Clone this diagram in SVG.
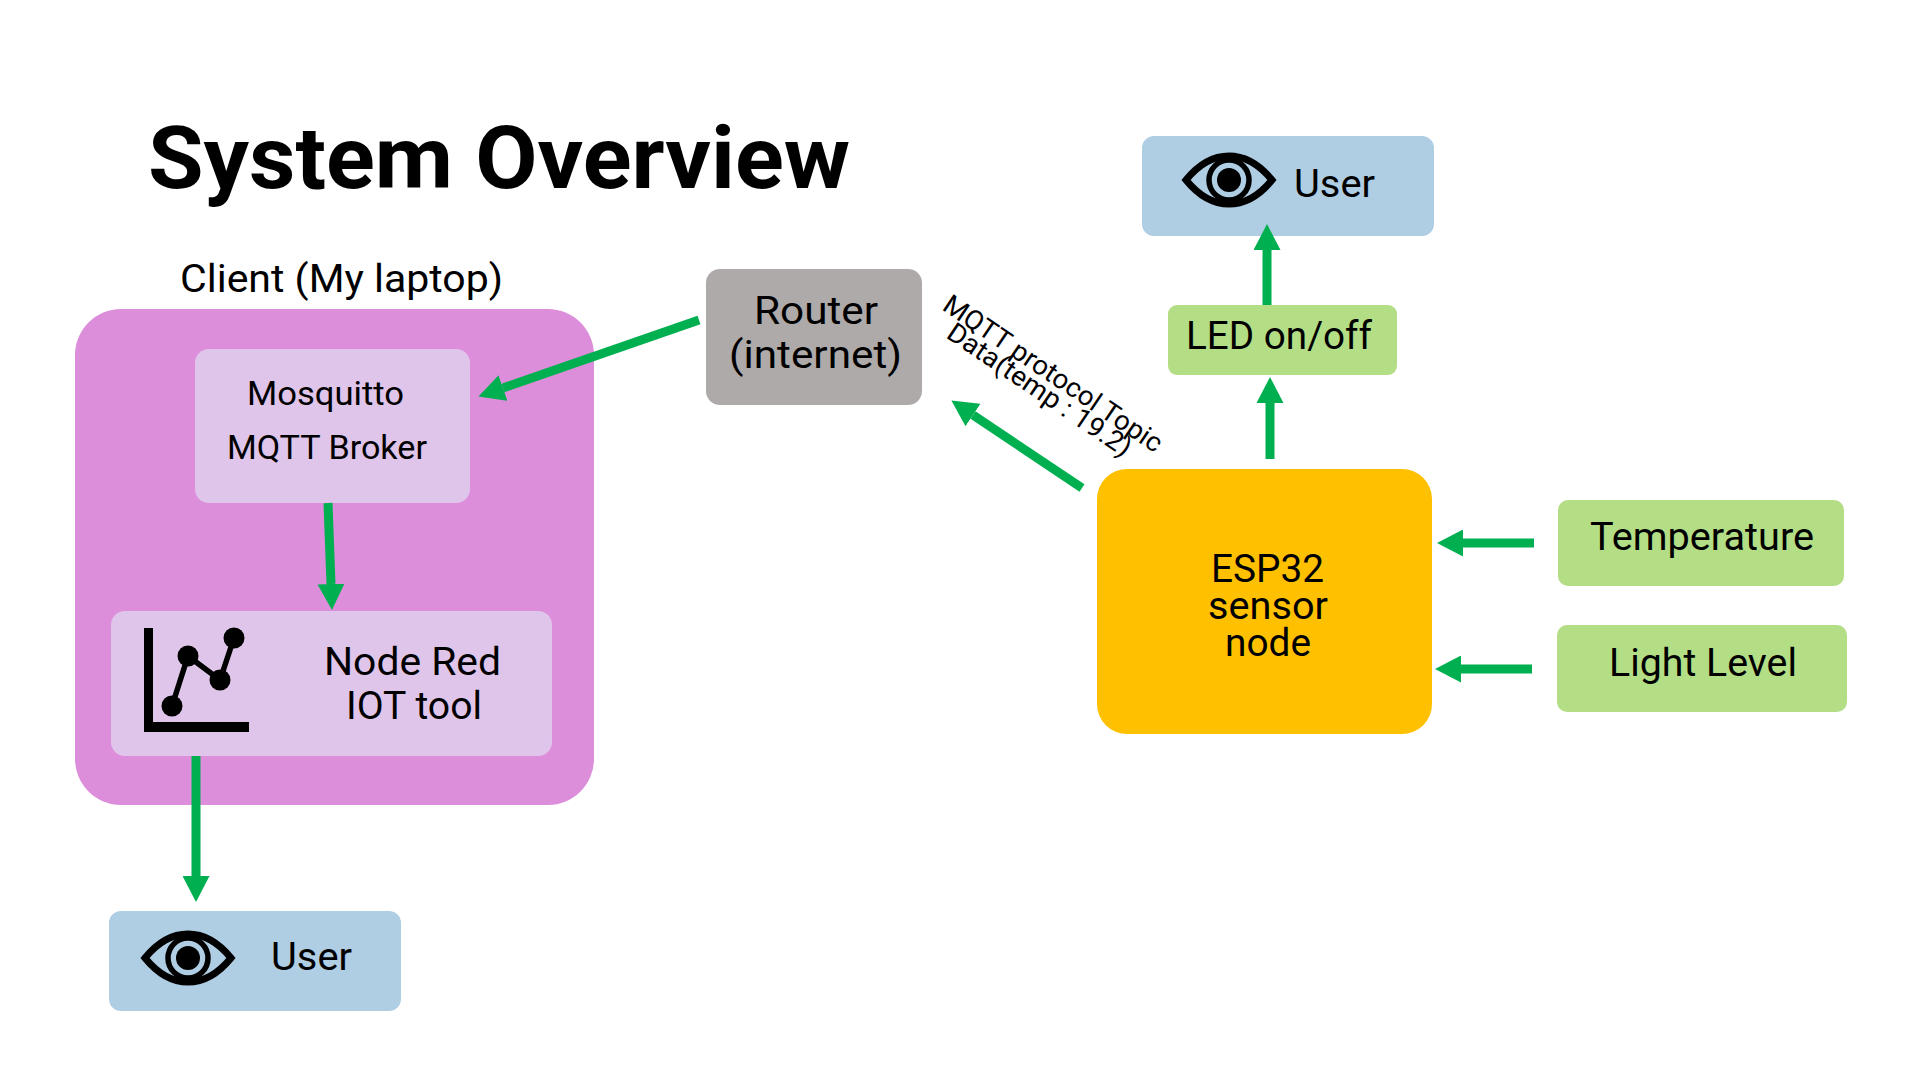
<svg xmlns="http://www.w3.org/2000/svg" width="1920" height="1080" viewBox="0 0 1920 1080">
<style>
text{font-family:"Roboto","Liberation Sans",sans-serif;fill:#000}
.t37{font-size:38px}
.t33{font-size:33px}
.title{font-size:88px;font-weight:700}
.rot{font-size:27px}
.link{stroke:#00B050;stroke-width:9;fill:none;marker-end:url(#head)}
.eye{fill:none;stroke:#000;stroke-width:7}
.ring{fill:none;stroke:#000;stroke-width:5.5}
.blue{fill:#AFCDE3}.pale{fill:#E0C5EB}.green{fill:#B3DE85}
</style>
<defs>
<marker id="head" markerUnits="userSpaceOnUse" markerWidth="26" markerHeight="27" refX="0" refY="13.5" orient="auto"><path d="M0,0L26,13.5L0,27Z" fill="#00B050"/></marker>
<g id="eye-icon">
<path class="eye" d="M-43,0C-30,-16 -16,-24 0,-24C16,-24 30,-16 43,0C30,16 16,24 0,24C-16,24 -30,16 -43,0Z"/>
<circle class="ring" r="20"/><circle r="12" fill="#000"/>
</g>
</defs>
<rect width="1920" height="1080" fill="#fff"/>
<text id="title" class="title" x="148" y="188" textLength="702" lengthAdjust="spacingAndGlyphs">System Overview</text>
<g id="client">
<rect x="75" y="309" width="519" height="496" rx="46" fill="#DD8EDB"/>
<text class="t37" x="180" y="292" textLength="323" lengthAdjust="spacingAndGlyphs">Client (My laptop)</text>
</g>
<g id="mosquitto">
<rect class="pale" x="195" y="349" width="275" height="154" rx="14"/>
<text class="t33" x="247" y="405" textLength="157" lengthAdjust="spacingAndGlyphs">Mosquitto</text>
<text class="t33" x="227" y="459" textLength="200" lengthAdjust="spacingAndGlyphs">MQTT Broker</text>
</g>
<g id="nodered">
<rect class="pale" x="111" y="611" width="441" height="145" rx="14"/>
<path d="M144,628H153V722H249V732H144Z"/>
<path d="M172,706L188,656L220,680L234,638" fill="none" stroke="#000" stroke-width="5.5"/>
<circle cx="172" cy="706" r="10.5"/><circle cx="188" cy="656" r="10.5"/><circle cx="220" cy="680" r="10.5"/><circle cx="234" cy="638" r="10.5"/>
<text class="t37" x="324" y="675" textLength="177" lengthAdjust="spacingAndGlyphs">Node Red</text>
<text class="t37" x="346" y="719" textLength="136" lengthAdjust="spacingAndGlyphs">IOT tool</text>
</g>
<g id="user-bottom">
<rect class="blue" x="109" y="911" width="292" height="100" rx="12"/>
<use href="#eye-icon" x="188" y="958"/>
<text class="t37" x="271" y="970" textLength="81" lengthAdjust="spacingAndGlyphs">User</text>
</g>
<g id="router">
<rect x="706" y="269" width="216" height="136" rx="14" fill="#AEAAAA"/>
<text class="t37" x="754" y="324" textLength="124" lengthAdjust="spacingAndGlyphs">Router</text>
<text class="t37" x="729" y="368" textLength="173" lengthAdjust="spacingAndGlyphs">(internet)</text>
</g>
<g id="user-top">
<rect class="blue" x="1142" y="136" width="292" height="100" rx="12"/>
<use href="#eye-icon" x="1229" y="180"/>
<text class="t37" x="1294" y="197" textLength="81" lengthAdjust="spacingAndGlyphs">User</text>
</g>
<g id="led">
<rect class="green" x="1168" y="305" width="229" height="70" rx="9"/>
<text class="t37" x="1186" y="349" textLength="186" lengthAdjust="spacingAndGlyphs">LED on/off</text>
</g>
<g id="esp32">
<rect x="1097" y="469" width="335" height="265" rx="30" fill="#FFC000"/>
<text class="t37" x="1211" y="582" textLength="113" lengthAdjust="spacingAndGlyphs">ESP32</text>
<text class="t37" x="1208" y="619" textLength="120" lengthAdjust="spacingAndGlyphs">sensor</text>
<text class="t37" x="1225" y="656" textLength="86" lengthAdjust="spacingAndGlyphs">node</text>
</g>
<g id="temperature">
<rect class="green" x="1558" y="500" width="286" height="86" rx="10"/>
<text class="t37" x="1590" y="550" textLength="224" lengthAdjust="spacingAndGlyphs">Temperature</text>
</g>
<g id="light">
<rect class="green" x="1557" y="625" width="290" height="87" rx="10"/>
<text class="t37" x="1609" y="676" textLength="188" lengthAdjust="spacingAndGlyphs">Light Level</text>
</g>
<g id="connectors">
<line class="link" x1="699" y1="320" x2="503" y2="388"/>
<line class="link" x1="1082" y1="488" x2="973" y2="415"/>
<line class="link" x1="328" y1="503" x2="331" y2="584"/>
<line class="link" x1="196" y1="756" x2="196" y2="876"/>
<line class="link" x1="1270" y1="459" x2="1270" y2="403"/>
<line class="link" x1="1267" y1="305" x2="1267" y2="250"/>
<line class="link" x1="1534" y1="543" x2="1463" y2="543"/>
<line class="link" x1="1532" y1="669" x2="1461" y2="669"/>
</g>
<g id="label">
<text class="rot" transform="translate(941,309) rotate(34)" textLength="258" lengthAdjust="spacingAndGlyphs">MQTT protocol Topic</text>
<text class="rot" transform="translate(945,337) rotate(34)" textLength="216" lengthAdjust="spacingAndGlyphs">Data(temp : 19.2)</text>
</g>
</svg>
